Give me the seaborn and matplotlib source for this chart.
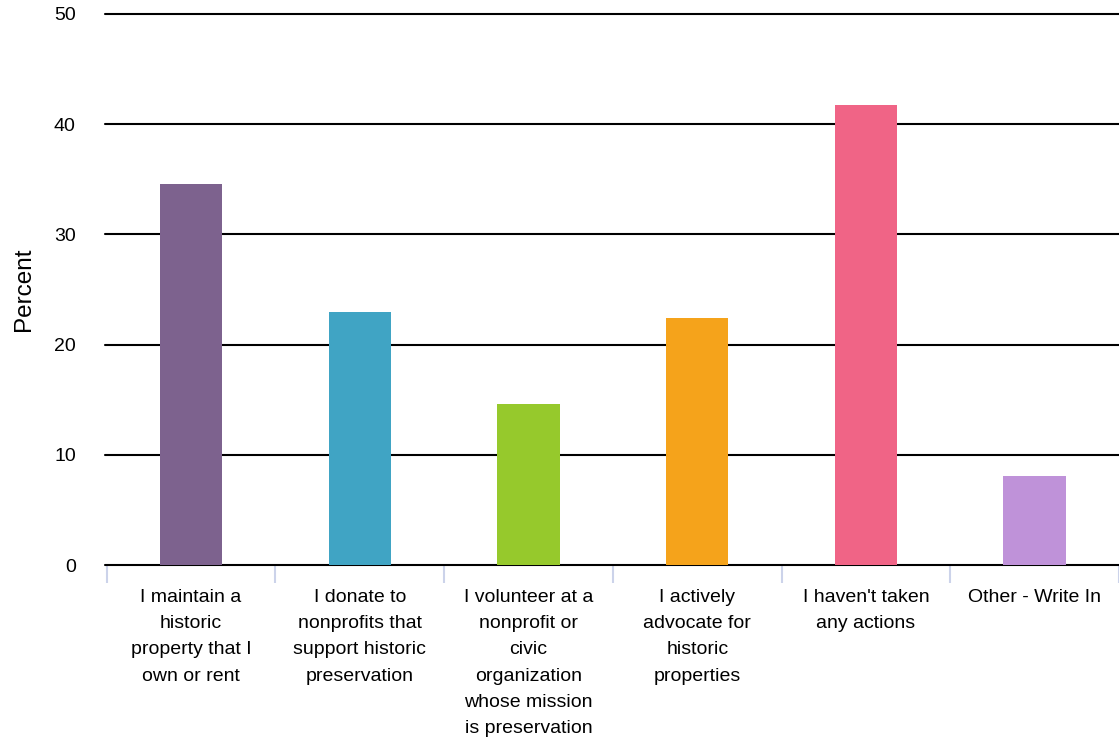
import matplotlib
matplotlib.use("Agg")
import matplotlib.pyplot as plt
import seaborn as sns
import pandas as pd
import numpy as np

categories = [
    "I maintain a\nhistoric\nproperty that I\nown or rent",
    "I donate to\nnonprofits that\nsupport historic\npreservation",
    "I volunteer at a\nnonprofit or\ncivic\norganization\nwhose mission\nis preservation",
    "I actively\nadvocate for\nhistoric\nproperties",
    "I haven't taken\nany actions",
    "Other - Write In",
]
percent = [34.6, 23.0, 14.6, 22.4, 41.7, 8.1]
colors = ["#7d628e", "#40a4c4", "#96c92c", "#f5a31b", "#f06486", "#bf92d9"]
yticks = [0, 10, 20, 30, 40, 50]

sns.set_style("white")
plt.rcParams["font.family"] = ["Liberation Sans", "DejaVu Sans"]

fig = plt.figure(figsize=(11.19, 7.42), dpi=100)
ax = fig.add_axes([105 / 1119, 1 - 565 / 742, 1 - 105 / 1119, (565 - 14) / 742])

df = pd.DataFrame({"cat": categories, "pct": percent})
sns.barplot(data=df, x="cat", y="pct", hue="cat", palette=colors, legend=False,
            width=0.37, saturation=1, ax=ax, zorder=3, linewidth=0)

ax.set_ylim(0, 50)
ax.set_xlim(-0.51, len(categories) - 0.51)
ax.set_yticks(yticks)
ax.set_yticklabels([str(v) for v in yticks], fontsize=14, color="black")
for y in yticks:
    ax.axhline(y, color="black", lw=1.5, zorder=1, clip_on=False)

for s in ax.spines.values():
    s.set_visible(False)

ax.tick_params(axis="y", length=0, pad=21)
ax.tick_params(axis="x", which="major", length=0, pad=17, labelsize=14,
               labelcolor="black")
ax.set_xticks(np.arange(-0.5, len(categories), 1.0), minor=True)
ax.tick_params(axis="x", which="minor", bottom=True, length=13,
               color="#ccd3ea", width=1.5)
for lab in ax.get_xticklabels():
    lab.set_linespacing(1.72)
    lab.set_verticalalignment("top")

ax.set_xlabel("")
ax.set_ylabel("Percent", fontsize=17.5, labelpad=14, color="black")

fig.savefig("out.png", dpi=100)
